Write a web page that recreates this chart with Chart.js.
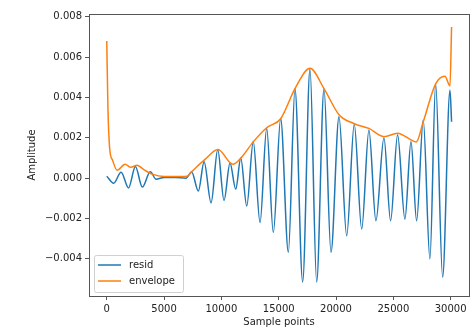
<!DOCTYPE html>
<html>
<head>
<meta charset="utf-8">
<script src="https://cdn.jsdelivr.net/npm/chart.js@4.4.0/dist/chart.umd.min.js"></script>
<style>
	body { margin: 0; background: #fff; }
	canvas { display: block; }
</style>
</head>
<body>
<canvas id="resid-chart" width="475" height="330"></canvas>
<script>
// Resid extrema (sample point, amplitude)
const residX = [0, 600, 1250, 1900, 2500, 3100, 3800, 4300, 5000, 6000, 6900,
	7410, 7990, 8490, 9100, 9680, 10230, 10750, 11250, 11690, 12210, 12780, 13370,
	13950, 14530, 15170, 15840, 16420, 17090, 17730, 18310, 18950, 19560, 20260,
	20930, 21590, 22240, 22870, 23480, 24180, 24760, 25370, 26010, 26540, 27030,
	27610, 28190, 28690, 29300, 29940, 30080];
const residY = [0.0001, -0.00025, 0.0003, -0.00048, 0.00058, -0.00044, 0.00032, -0.00005, 0.00004, 0.00004, 0.0,
	0.00031, -0.00064, 0.00082, -0.00122, 0.00142, -0.0011, 0.00075, -0.00054, 0.001, -0.00138, 0.00182, -0.0022,
	0.00247, -0.00269, 0.00296, -0.00367, 0.00444, -0.00514, 0.00542, -0.00514, 0.00444, -0.00367, 0.00305,
	-0.00285, 0.00267, -0.00252, 0.00239, -0.00211, 0.00201, -0.00211, 0.00215, -0.00203, 0.00182, -0.00211,
	0.00288, -0.004, 0.00468, -0.0049, 0.00436, 0.0028];

// Envelope points
const envelopeX = [0, 100, 250, 500, 900, 1600, 2100, 2640, 3300, 3950, 5000, 6000, 7000,
	7440, 8570, 9700, 11000, 11700, 12780, 13950, 15170, 16420, 17730, 18950, 20260,
	21590, 22870, 24180, 25370, 26540, 27000, 27610, 28690, 29500, 29940, 30080];
const envelopeY = [0.0068, 0.0035, 0.0015, 0.0009, 0.0004, 0.00069, 0.00054, 0.00064, 0.0004, 0.0002, 0.00008, 0.00008, 0.0001,
	0.00034, 0.00093, 0.00142, 0.00069, 0.001, 0.0018, 0.0025, 0.00295, 0.00444, 0.00545, 0.00444, 0.00315,
	0.0027, 0.00247, 0.00206, 0.00223, 0.0019, 0.0018, 0.0028, 0.00468, 0.00506, 0.00457, 0.0075];

const xTicks = [0, 5000, 10000, 15000, 20000, 25000, 30000];
const yTicks = [-0.004, -0.002, 0.000, 0.002, 0.004, 0.006, 0.008];

const FONT = { family: 'DejaVu Sans', size: 10 };
const SPINE = '#555';

function toPoints (xs, ys) {
	return xs.map((x, i) => ({ x: x, y: ys[i] }));
}

function formatY (value) {
	const text = Math.abs(value).toFixed(3);
	return value < -1e-9 ? '\u2212' + text : text;
}

// Frame round the plot and a legend box in the lower left corner
const framePlugin = {
	id: 'frame',
	afterDraw (chart) {
		const ctx = chart.ctx;
		const area = chart.chartArea;

		ctx.save();
		ctx.strokeStyle = SPINE;
		ctx.lineWidth = 1;
		ctx.strokeRect(Math.round(area.left) + 0.5, Math.round(area.top) + 0.5,
			Math.round(area.right - area.left), Math.round(area.bottom - area.top));

		const bx = area.left + 5;
		const by = area.bottom - 41;
		const bw = 89;
		const bh = 37;
		ctx.fillStyle = 'rgba(255,255,255,0.8)';
		ctx.strokeStyle = '#d0d0d0';
		ctx.beginPath();
		ctx.roundRect(bx + 0.5, by + 0.5, bw, bh, 2);
		ctx.fill();
		ctx.stroke();

		ctx.font = '10px "DejaVu Sans"';
		ctx.textBaseline = 'middle';
		chart.data.datasets.forEach((dataset, index) => {
			const y = by + 10 + index * 16;
			ctx.strokeStyle = dataset.borderColor;
			ctx.lineWidth = 1.5;
			ctx.beginPath();
			ctx.moveTo(bx + 4, y);
			ctx.lineTo(bx + 27, y);
			ctx.stroke();
			ctx.fillStyle = '#222';
			ctx.fillText(dataset.label, bx + 35, y);
		});
		ctx.restore();
	}
};

const chart = new Chart(document.getElementById('resid-chart'), {
	type: 'line',
	data: {
		datasets: [{
			label: 'resid',
			data: toPoints(residX, residY),
			borderColor: '#1f77b4',
			borderWidth: 1.5,
			pointRadius: 0,
			cubicInterpolationMode: 'monotone',
			order: 1
		}, {
			label: 'envelope',
			data: toPoints(envelopeX, envelopeY),
			borderColor: '#ff7f0e',
			borderWidth: 1.5,
			pointRadius: 0,
			cubicInterpolationMode: 'monotone',
			order: 0
		}]
	},
	options: {
		responsive: false,
		animation: false,
		layout: { padding: { top: 14, right: 6, left: 0, bottom: 0 } },
		plugins: {
			legend: { display: false },
			tooltip: { enabled: false }
		},
		scales: {
			x: {
				type: 'linear',
				min: -1550,
				max: 31600,
				afterFit: (scale) => { scale.height = 34; },
				afterBuildTicks: (scale) => { scale.ticks = xTicks.map(v => ({ value: v })); },
				grid: { drawOnChartArea: false, drawTicks: true, tickLength: 4, color: SPINE },
				border: { display: false },
				ticks: { font: FONT, color: '#222', padding: 3, maxRotation: 0, callback: (v) => String(v) },
				title: { display: true, text: 'Sample points', font: FONT, color: '#222', padding: { top: 0, bottom: 2 } }
			},
			y: {
				min: -0.00584,
				max: 0.00814,
				afterFit: (scale) => { scale.width = 89; },
				afterBuildTicks: (scale) => { scale.ticks = yTicks.map(v => ({ value: v })); },
				grid: { drawOnChartArea: false, drawTicks: true, tickLength: 4, color: SPINE },
				border: { display: false },
				ticks: { font: FONT, color: '#222', padding: 3, callback: formatY },
				title: { display: true, text: 'Amplitude', font: FONT, color: '#222', padding: { top: 26, bottom: 0 } }
			}
		}
	},
	plugins: [framePlugin]
});
</script>
</body>
</html>
